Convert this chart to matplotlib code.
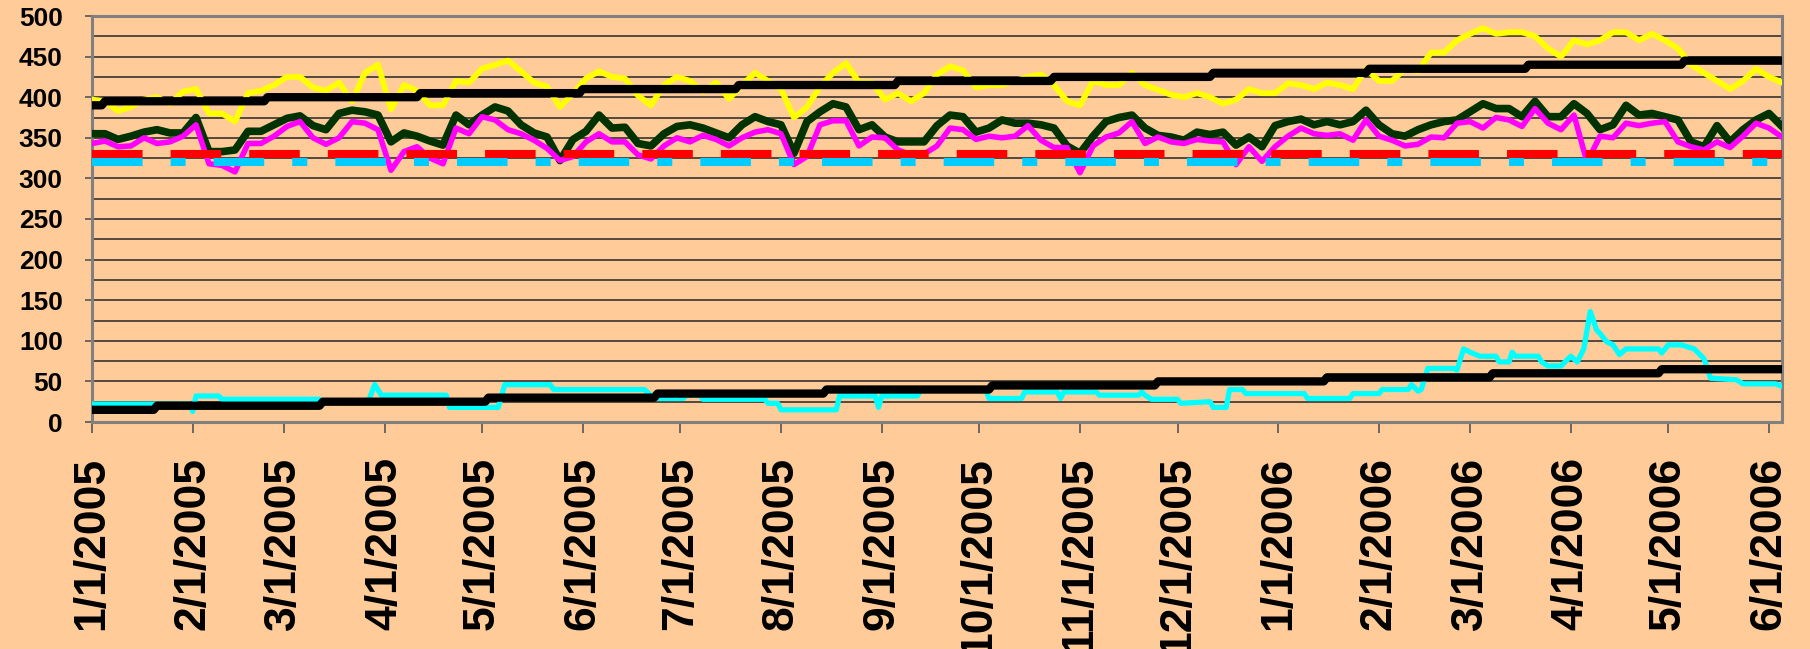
import numpy as np
import pandas as pd
import matplotlib
matplotlib.use("Agg")
import matplotlib.pyplot as plt

plt.rcParams["font.family"] = ["Liberation Sans", "DejaVu Sans"]
plt.rcParams["font.weight"] = "bold"
plt.rcParams["lines.scale_dashes"] = False

start = pd.Timestamp("2005-01-01")
n_days = 520

# sample days (days after 1/1/2005) for the noisy daily series
sample_days = np.arange(0, 521, 4)

yellow = [397, 395, 383, 388, 397, 400, 392, 407, 410, 380, 380, 370, 405, 408, 415, 425,
          425, 412, 408, 418, 395, 430, 440, 385, 415, 408, 390, 390, 420, 418, 435, 440,
          445, 432, 418, 413, 388, 405, 423, 432, 425, 423, 402, 390, 415, 425, 420, 407,
          418, 398, 415, 430, 420, 410, 375, 388, 413, 430, 442, 418, 418, 397, 405, 395,
          405, 428, 438,
          433, 412, 415, 415, 420, 425, 428, 415, 395, 390, 420, 415, 415, 430, 415, 409,
          403, 400, 405, 400, 392, 397, 410, 405, 405, 417, 415, 410, 418, 415, 410, 435,
          420, 420,
          435, 432, 455, 455, 470, 478, 485, 478, 480, 480, 475, 460, 450, 470, 465, 470,
          480, 480, 470, 478, 470, 460, 440, 430, 420, 410, 420, 435, 425, 418]

green = [355, 355, 348, 352, 357, 360, 356, 356, 375, 333, 333, 335, 358, 358, 366, 374,
         377, 365, 360, 380, 384, 382, 378, 345, 356, 352, 346, 341, 378, 366, 378, 388,
         383, 366, 356, 351, 322, 348, 358, 378, 362, 363, 343, 340, 355, 364, 366, 362,
         356, 350, 366, 376, 370, 366, 331, 370, 382, 392, 388, 360, 366, 351, 345, 345,
         345, 365, 378,
         376, 357, 362, 372, 368, 368, 366, 362, 340, 331, 352, 370, 375, 378, 362, 353,
         351, 347, 357, 354, 357, 341, 351, 339, 365, 370, 373, 366, 370, 366, 370, 384,
         366, 355,
         352, 360, 366, 370, 372, 382, 392, 386, 386, 376, 395, 376, 376, 392, 380, 360,
         366, 390, 378, 380, 376, 372, 345, 339, 365, 345, 360, 372, 380, 364]

magenta = [343, 346, 339, 340, 350, 343, 345, 352, 366, 318, 316, 308, 343, 343, 352, 364,
           370, 350, 342, 350, 370, 368, 360, 310, 333, 339, 325, 318, 362, 355, 376, 372,
           360, 355, 347, 337, 322, 327, 345, 355, 345, 345, 329, 324, 340, 350, 345, 353,
           348, 340, 350, 357, 360, 355, 317, 327, 366, 371, 371, 340, 351, 350, 335, 329,
           330, 340, 362,
           360, 348, 352, 350, 352, 365, 347, 338, 338, 307, 340, 351, 356, 370, 343, 351,
           345, 343, 348, 346, 345, 317, 339, 321, 339, 352, 362, 355, 353, 355, 347, 372,
           352, 347,
           340, 342, 351, 350, 368, 370, 362, 375, 372, 364, 386, 368, 360, 378, 320, 352,
           350, 368, 365, 368, 370, 345, 339, 335, 345, 338, 352, 368, 362, 351]

# lower cyan series, read as breakpoints (day, value)
cyan_days = [0, 30, 31, 32, 39, 40, 70, 71, 85, 87, 89, 109, 110, 125, 127, 141, 142, 170,
             173, 182, 183, 187, 188, 207, 208, 211, 212, 229, 230, 241, 242, 243, 254, 255,
             275, 276, 286, 287, 297, 298, 299, 309, 310, 322, 323, 324, 326, 334, 335, 344,
             345, 349, 350, 354, 355, 373, 374, 387, 388, 396, 397, 405, 406, 408, 409, 411,
             419, 420, 422, 424, 427, 432, 433, 436, 437, 438, 445, 446, 448, 452, 455, 457,
             459, 461, 463, 464, 466, 468, 470, 472, 482, 483, 485, 489, 493, 496, 498, 506,
             508, 518, 520]
cyan_vals = [22, 22, 13, 32, 32, 28, 28, 25, 25, 46, 33, 33, 18, 18, 46, 46, 40, 40,
             29, 29, 33, 33, 28, 28, 23, 23, 15, 15, 32, 32, 18, 32, 32, 40,
             40, 29, 29, 37, 37, 29, 37, 37, 33, 33, 37, 33, 28, 28, 23, 25,
             18, 18, 40, 40, 35, 35, 29, 29, 35, 35, 40, 40, 46, 38, 40, 66,
             66, 64, 90, 86, 81, 81, 74, 74, 86, 81, 81, 74, 69, 69, 81, 74,
             90, 136, 113, 109, 99, 95, 83, 90, 90, 85, 95, 95, 90, 78, 54, 52,
             47, 47, 44]

# step lines: day of each change and the level held
upper_step_days = [4, 54, 101, 151, 199, 248, 296, 345, 393, 442, 490]
upper_levels = [390, 395, 400, 405, 410, 415, 420, 425, 430, 435, 440, 445]
lower_step_days = [20, 71, 122, 174, 226, 277, 328, 380, 431, 483]
lower_levels = [15, 20, 25, 30, 35, 40, 45, 50, 55, 60, 65]

red_level = 330
blue_level = 320

tick_labels = ["1/1/2005", "2/1/2005", "3/1/2005", "4/1/2005", "5/1/2005", "6/1/2005",
               "7/1/2005", "8/1/2005", "9/1/2005", "10/1/2005", "11/1/2005", "12/1/2005",
               "1/1/2006", "2/1/2006", "3/1/2006", "4/1/2006", "5/1/2006", "6/1/2006"]


def to_dates(d):
    return (start + pd.to_timedelta(np.asarray(d), unit="D")).to_pydatetime()


all_days = np.arange(0, n_days + 1)
upper_black = np.array(upper_levels)[np.searchsorted(upper_step_days, all_days, side="right")]
lower_black = np.array(lower_levels)[np.searchsorted(lower_step_days, all_days, side="right")]

bg = "#FFCC99"
fig = plt.figure(figsize=(18.1, 6.49), dpi=100, facecolor=bg)
ax = fig.add_axes([92 / 1810, 1 - 422 / 649, (1782 - 92) / 1810, (422 - 16) / 649])
ax.set_facecolor(bg)

x_s = to_dates(sample_days)
x_all = to_dates(all_days)

ax.plot(x_s, yellow, color="#FFFF00", lw=4.2, solid_joinstyle="round", zorder=3)
ax.plot(x_all, upper_black, color="black", lw=6.0, solid_joinstyle="round",
        solid_capstyle="round", zorder=4)
ax.plot(x_s, green, color="#003300", lw=5.5, solid_joinstyle="round", zorder=5)
ax.plot(x_s, magenta, color="#FF00FF", lw=4.0, solid_joinstyle="round", zorder=6)

x_ends = to_dates([0, n_days])
red, = ax.plot(x_ends, [red_level, red_level], color="#FF0000", lw=5.8, zorder=7)
red.set_dashes([36.4, 20.2])
red.set_dash_capstyle("butt")
blue, = ax.plot(x_ends, [blue_level, blue_level], color="#00CCFF", lw=5.8, zorder=7)
blue.set_dashes([36.4, 20.2, 10.8, 20.2])
blue.set_dash_capstyle("butt")

ax.plot(to_dates(cyan_days), cyan_vals, color="#00FFFF", lw=3.8, solid_joinstyle="round",
        solid_capstyle="round", zorder=8)
ax.plot(x_all, lower_black, color="black", lw=6.0, solid_joinstyle="round",
        solid_capstyle="round", zorder=9)

ax.set_xlim(x_ends[0], x_ends[1])
ax.set_ylim(0, 500)

ax.set_yticks(np.arange(0, 501, 50))
ax.set_yticklabels([str(v) for v in range(0, 501, 50)])
ax.set_yticks(np.arange(0, 501, 25), minor=True)
ax.yaxis.grid(True, which="both", color="#262626", lw=1.1)
ax.set_axisbelow(True)

month_starts = pd.date_range("2005-01-01", "2006-06-01", freq="MS").to_pydatetime()
ax.set_xticks(month_starts)
ax.set_xticklabels(tick_labels, rotation=90, ha="center", va="top")

ax.tick_params(axis="y", which="major", direction="out", length=5, width=1.2,
               color="#555555", pad=16, labelsize=19)
ax.tick_params(axis="y", which="minor", length=0)
ax.tick_params(axis="x", direction="out", length=8, width=1.2, color="#555555",
               pad=17, labelsize=32)

for s in ax.spines.values():
    s.set_color("#808080")
    s.set_linewidth(2.2)

fig.savefig("out.png", dpi=100, facecolor=bg)
